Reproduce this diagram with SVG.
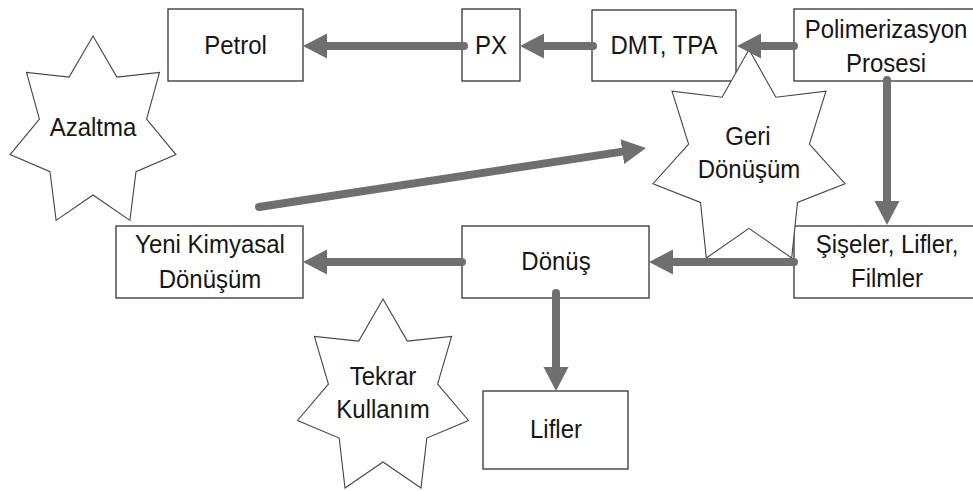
<svg xmlns="http://www.w3.org/2000/svg" width="973" height="491" viewBox="0 0 973 491">
<style>
.box{fill:#fff;stroke:#333;stroke-width:1.3}
.star{fill:#fff;stroke:#444;stroke-width:1.1;stroke-linejoin:miter}
.t{font-family:"Liberation Sans",Arial,sans-serif;font-size:24px;fill:#161616;text-anchor:middle}
.arr{stroke:#6f6f6f;stroke-width:8;fill:none;stroke-linecap:round}
</style>
<defs>
<marker id="ah" markerUnits="userSpaceOnUse" viewBox="0 -14 26 28" refX="0" refY="0" markerWidth="26" markerHeight="28" orient="auto">
<path d="M0,-12.5 L24,0 L0,12.5 Z" fill="#6f6f6f"/>
</marker>
</defs>
<rect width="973" height="491" fill="#fff"/>
<g id="petrol"><rect class="box" x="168" y="9" width="135" height="72"/><text class="t" transform="translate(235.5,54) scale(1,1.1)">Petrol</text></g>
<g id="px"><rect class="box" x="462" y="9" width="58" height="72"/><text class="t" transform="translate(491,54) scale(1,1.1)">PX</text></g>
<g id="dmt"><rect class="box" x="592" y="10" width="144" height="71"/><text class="t" transform="translate(664,54) scale(1,1.1)">DMT, TPA</text></g>
<g id="poli"><rect class="box" x="794" y="9" width="185" height="72"/><text class="t" transform="translate(886,38) scale(1,1.1)">Polimerizasyon</text><text class="t" transform="translate(886,72) scale(1,1.1)">Prosesi</text></g>
<g id="yeni"><rect class="box" x="116" y="226" width="187" height="72"/><text class="t" transform="translate(210,253) scale(1,1.1)">Yeni Kimyasal</text><text class="t" transform="translate(210,288) scale(1,1.1)">Dönüşüm</text></g>
<g id="donus"><rect class="box" x="462" y="226" width="187" height="72"/><text class="t" transform="translate(556,270) scale(1,1.1)">Dönüş</text></g>
<g id="siseler"><rect class="box" x="794" y="226" width="185" height="72"/><text class="t" transform="translate(887,253) scale(1,1.1)">Şişeler, Lifler,</text><text class="t" transform="translate(887,287) scale(1,1.1)">Filmler</text></g>
<g id="lifler"><rect class="box" x="483" y="391" width="145" height="78"/><text class="t" transform="translate(556,438) scale(1,1.1)">Lifler</text></g>
<g id="azaltma"><polygon class="star" points="93,36 116.9,77.1 159.5,72.5 146.6,119.2 175.9,154.6 136,171.7 129.9,220.4 93,195 56.1,220.4 50,171.7 10.1,154.6 39.4,119.2 26.5,72.5 69.1,77.1"/><text class="t" transform="translate(93,136) scale(1,1.1)">Azaltma</text></g>
<g id="geri"><polygon class="star" points="749,49.6 775.9,97.2 826,91.2 809.4,144 845,183.7 797.5,202.4 791.7,258 749,228.4 706.3,258 700.5,202.4 653,183.7 688.6,144 672,91.2 722.1,97.2"/><text class="t" transform="translate(748,145) scale(1,1.1)">Geri</text><text class="t" transform="translate(749,178) scale(1,1.1)">Dönüşüm</text></g>
<g id="tekrar"><polygon class="star" points="383,299 407.3,341.1 451.6,336.4 437.6,384.2 468.5,420.5 426.8,438.1 421,488 383,462 345,488 339.2,438.1 297.5,420.5 328.4,384.2 314.4,336.4 358.7,341.1"/><text class="t" transform="translate(383,385) scale(1,1.1)">Tekrar</text><text class="t" transform="translate(383,418) scale(1,1.1)">Kullanım</text></g>
<g id="connectors">
<path class="arr" marker-end="url(#ah)" d="M464,46 L327,46"/>
<path class="arr" marker-end="url(#ah)" d="M593,46 L544,46"/>
<path class="arr" marker-end="url(#ah)" d="M794,46 L761,46"/>
<path class="arr" marker-end="url(#ah)" d="M887,80 L887,201"/>
<path class="arr" marker-end="url(#ah)" d="M794,262 L673,262"/>
<path class="arr" marker-end="url(#ah)" d="M462,262 L327,262"/>
<path class="arr" marker-end="url(#ah)" d="M556,293 L556,367"/>
<path class="arr" marker-end="url(#ah)" d="M259,207 L622.3,151.6"/>
</g>
</svg>
